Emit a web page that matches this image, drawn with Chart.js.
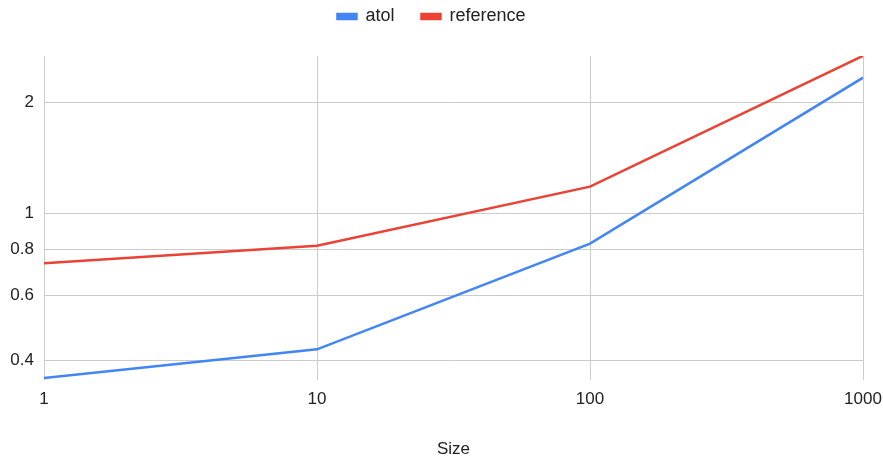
<!DOCTYPE html>
<html>
<head>
<meta charset="utf-8">
<script src="https://cdn.jsdelivr.net/npm/chart.js@4/dist/chart.umd.min.js"></script>
<style>
  html, body { margin: 0; padding: 0; background: #ffffff; }
  #wrap { width: 883px; height: 458px; position: relative; }
</style>
</head>
<body>
<div id="wrap"><canvas id="c"></canvas></div>
<script>
const sizes = [1, 10, 100, 1000];
const atolValues = [0.358, 0.428, 0.829, 2.338];
const referenceValues = [0.733, 0.818, 1.183, 2.68];
const xTickValues = [1, 10, 100, 1000];
const yTickValues = [0.4, 0.6, 0.8, 1, 2];
const yTickLabels = ['0.4', '0.6', '0.8', '1', '2'];
const seriesNames = ['atol', 'reference'];
const xTitle = 'Size';

const FONT = "'Liberation Sans', Arial, sans-serif";
const TEXT = '#222222';
const GRID = '#cccccc';

const legendFix = {
  id: 'legendFix',
  beforeUpdate(chart) {
    const lg = chart.legend;
    if (lg && !lg._patched) {
      const f = lg.fit;
      lg.fit = function () { f.call(this); this.height = 75.5; };
      lg._patched = true;
    }
  }
};

new Chart(document.getElementById('c'), {
  type: 'line',
  data: {
    datasets: [
      {
        label: seriesNames[0],
        data: sizes.map((x, i) => ({ x: x, y: atolValues[i] })),
        borderColor: '#4285F4',
        backgroundColor: '#4285F4',
        borderWidth: 2.5,
        pointRadius: 0,
        tension: 0
      },
      {
        label: seriesNames[1],
        data: sizes.map((x, i) => ({ x: x, y: referenceValues[i] })),
        borderColor: '#EA4335',
        backgroundColor: '#EA4335',
        borderWidth: 2.5,
        pointRadius: 0,
        tension: 0
      }
    ]
  },
  plugins: [legendFix],
  options: {
    responsive: true,
    maintainAspectRatio: false,
    animation: false,
    layout: { padding: { top: -19.5, right: 20, bottom: 0, left: 0 } },
    plugins: {
      legend: {
        position: 'top',
        align: 'center',
        labels: {
          font: { family: FONT, size: 18 },
          color: TEXT,
          boxWidth: 19,
          boxHeight: 5,
          padding: 27
        }
      },
      tooltip: { enabled: false }
    },
    scales: {
      x: {
        type: 'logarithmic',
        min: 1,
        max: 1000,
        afterBuildTicks(scale) { scale.ticks = xTickValues.map(v => ({ value: v })); },
        afterFit(scale) { scale.height = 78; scale.paddingLeft = 0; scale.paddingRight = 0; },
        ticks: {
          font: { family: FONT, size: 17 },
          color: TEXT,
          padding: 9,
          maxRotation: 0,
          autoSkip: false,
          callback: (v) => String(v)
        },
        grid: { color: GRID, lineWidth: 1, drawTicks: false },
        border: { display: false },
        title: {
          display: true,
          text: xTitle,
          color: TEXT,
          font: { family: FONT, size: 17, lineHeight: 1 },
          padding: { top: 0, bottom: 0 }
        }
      },
      y: {
        type: 'logarithmic',
        min: 0.3534,
        max: 2.677,
        afterBuildTicks(scale) { scale.ticks = yTickValues.map(v => ({ value: v })); },
        afterFit(scale) { scale.width = 44; scale.paddingTop = 0; scale.paddingBottom = 0; },
        ticks: {
          font: { family: FONT, size: 17 },
          color: TEXT,
          padding: 10,
          autoSkip: false,
          callback: (v) => {
            const i = yTickValues.indexOf(v);
            return i >= 0 ? yTickLabels[i] : '';
          }
        },
        grid: { color: GRID, lineWidth: 1, drawTicks: false },
        border: { display: false }
      }
    }
  }
});
</script>
</body>
</html>
